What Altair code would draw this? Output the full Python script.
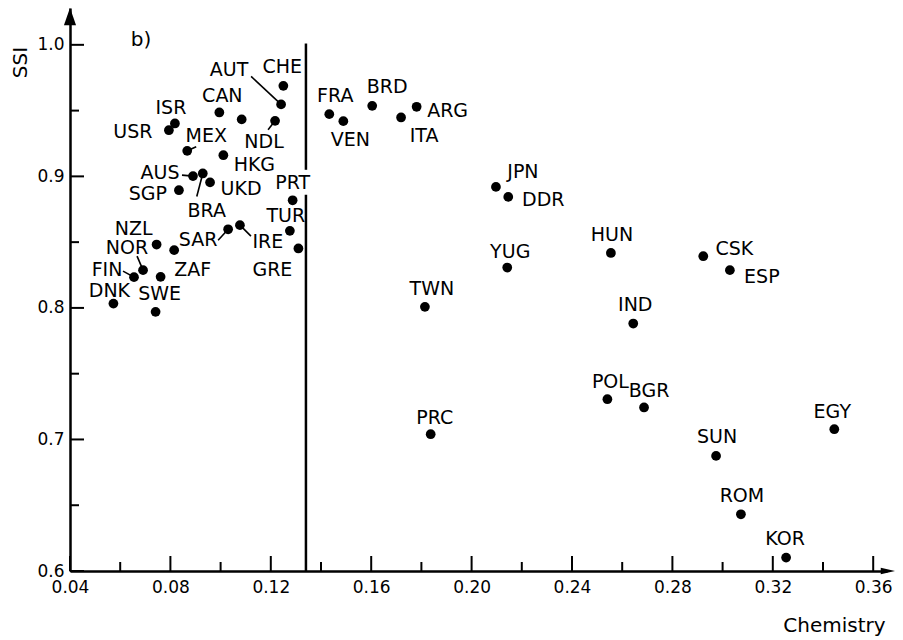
import altair as alt
import pandas as pd

# ---- data ----
countries = ["CHE", "AUT", "CAN", "", "NDL", "ISR", "USR", "MEX", "HKG", "AUS",
             "BRA", "UKD", "SGP", "PRT", "TUR", "IRE", "GRE", "SAR", "", "NZL",
             "NOR", "FIN", "ZAF", "DNK", "SWE", "FRA", "VEN", "BRD", "ITA", "ARG",
             "JPN", "DDR", "YUG", "TWN", "IND", "POL", "BGR", "PRC", "HUN", "CSK",
             "ESP", "EGY", "SUN", "ROM", "KOR"]
chemistry = [0.1250, 0.1241, 0.0995, 0.1084, 0.1217, 0.0818, 0.0794, 0.0867, 0.1011, 0.0890,
             0.0929, 0.0958, 0.0834, 0.1287, 0.1276, 0.1077, 0.1310, 0.1030, 0.0815, 0.0745,
             0.0691, 0.0655, 0.0761, 0.0573, 0.0741, 0.1433, 0.1489, 0.1604, 0.1719, 0.1781,
             0.2097, 0.2146, 0.2142, 0.1814, 0.2644, 0.2541, 0.2687, 0.1837, 0.2555, 0.2923,
             0.3029, 0.3445, 0.2974, 0.3073, 0.3253]
ssi = [0.9688, 0.9547, 0.9486, 0.9433, 0.9422, 0.9402, 0.9351, 0.9194, 0.9161, 0.9002,
       0.9022, 0.8954, 0.8895, 0.8818, 0.8586, 0.8629, 0.8452, 0.8598, 0.8439, 0.8482,
       0.8287, 0.8234, 0.8236, 0.8033, 0.7970, 0.9473, 0.9420, 0.9536, 0.9448, 0.9529,
       0.8920, 0.8844, 0.8307, 0.8008, 0.7881, 0.7306, 0.7243, 0.7040, 0.8418, 0.8393,
       0.8287, 0.7078, 0.6875, 0.6431, 0.6102]

# label placement offsets in pixels (style)
label_dx = [-1, -52, 3, 0, -11, -4, -36, 19, 31, -33,
            4, 31, -31, 0, -4, 28, -26, -30, 0, -23,
            -16, -27, 32, -4, 4, 6, 7, 15, 23, 31,
            27, 35, 3, 7, 2, 3, 5, 4, 1, 31,
            32, -2, 1, 1, -1]
label_dy = [-19, -34, -16, 0, 21, -15, 2, -15, 10, -3,
            38, 7, 4, -17, -15, 17, 22, 11, 0, -16,
            -22, -7, -7, -13, -18, -18, 19, -19, 19, 4,
            -15, 3, -16, -18, -19, -17, -16, -16, -18, -7,
            7, -17, -19, -18, -19]

# leader lines (pixel offsets from the dot)
leader_countries = ["AUT", "NDL", "MEX", "AUS", "BRA", "SAR", "IRE", "FIN", "NOR"]
leader_dx = [-30, -7, 9, -11, -6, -10, 11, -11, -6]
leader_dy = [-28, 9, -4, -1, 23, 11, 11, -6, -14]

x_label_values = [0.04, 0.08, 0.12, 0.16, 0.20, 0.24, 0.28, 0.32, 0.36]
x_minor_ticks = [0.06, 0.10, 0.14, 0.18, 0.22, 0.26, 0.30, 0.34]
y_label_values = [0.6, 0.7, 0.8, 0.9, 1.0]
y_minor_ticks = [0.65, 0.75, 0.85, 0.95]

divider_x = 0.134
divider_from = [0.6, 0.905]
divider_to = [0.886, 1.001]

# ---- layout ----
W, H = 817, 563
X_DOM = [0.04, 0.04 + W / 2510]
Y_DOM = [0.6, 1.028]
KX = (X_DOM[1] - X_DOM[0]) / W
KY = (Y_DOM[1] - Y_DOM[0]) / H
FONT = "DejaVu Sans"

xs = alt.Scale(domain=X_DOM, nice=False, zero=False)
ys = alt.Scale(domain=Y_DOM, nice=False, zero=False)

x_axis = alt.Axis(
    values=x_label_values, format=".2f", labelFontSize=17, labelPadding=8,
    labelFlush=False, labelOverlap=False, labelColor="black",
    domainColor="black", domainWidth=2.5, ticks=False, tickSize=0, grid=False,
    title="Chemistry", titleX=764, titleY=54, titleFontSize=20,
    titleFontWeight="normal", titleAlign="center", titleBaseline="middle",
    titleColor="black")
y_axis = alt.Axis(
    values=y_label_values, format=".1f", labelFontSize=17, labelPadding=6,
    labelOverlap=False, labelColor="black",
    domainColor="black", domainWidth=2.5, ticks=False, tickSize=0, grid=False,
    title="SSI", titleAngle=270, titleX=-50, titleY=54, titleFontSize=20,
    titleFontWeight="normal", titleAlign="center", titleBaseline="middle",
    titleColor="black")

df = pd.DataFrame({"country": countries, "chem": chemistry, "ssi": ssi,
                   "dx": label_dx, "dy": label_dy})

points = alt.Chart(df).mark_circle(size=95, color="black", opacity=1).encode(
    x=alt.X("chem:Q", scale=xs, axis=x_axis),
    y=alt.Y("ssi:Q", scale=ys, axis=y_axis),
)

labels = alt.Chart(df).transform_filter("datum.country != ''").transform_calculate(
    lx=f"datum.chem + datum.dx * {KX}",
    ly=f"datum.ssi - datum.dy * {KY}",
).mark_text(font=FONT, fontSize=19, color="black", align="center", baseline="middle").encode(
    x=alt.X("lx:Q", scale=xs, axis=x_axis),
    y=alt.Y("ly:Q", scale=ys, axis=y_axis),
    text="country:N",
)

lead_df = pd.DataFrame({"country": leader_countries, "ox": leader_dx, "oy": leader_dy}).merge(
    df[["country", "chem", "ssi"]], on="country")
leaders = alt.Chart(lead_df).transform_calculate(
    ex=f"datum.chem + datum.ox * {KX}",
    ey=f"datum.ssi - datum.oy * {KY}",
).mark_rule(color="black", strokeWidth=1.6).encode(
    x=alt.X("chem:Q", scale=xs, axis=x_axis),
    y=alt.Y("ssi:Q", scale=ys, axis=y_axis),
    x2="ex:Q",
    y2="ey:Q",
)

div_df = pd.DataFrame({"x": [divider_x] * len(divider_from), "y1": divider_from, "y2": divider_to})
divider = alt.Chart(div_df).mark_rule(color="black", strokeWidth=2.5).encode(
    x=alt.X("x:Q", scale=xs, axis=x_axis),
    y=alt.Y("y1:Q", scale=ys, axis=y_axis),
    y2="y2:Q",
)

def xticks(vals, length):
    return alt.Chart(pd.DataFrame({"t": vals})).mark_rule(color="black", strokeWidth=2).encode(
        x=alt.X("t:Q", scale=xs, axis=x_axis), y=alt.value(H), y2=alt.value(H - length))

def yticks(vals, length):
    return alt.Chart(pd.DataFrame({"t": vals})).mark_rule(color="black", strokeWidth=2).encode(
        y=alt.Y("t:Q", scale=ys, axis=y_axis), x=alt.value(0), x2=alt.value(length))

one = alt.Data(values=[{"a": 1}])
arrow_up = alt.Chart(one).mark_point(shape="M-0.7,1L0,-1L0.7,1Z", filled=True, color="black",
                                     opacity=1, size=300, strokeWidth=0).encode(
    x=alt.value(0), y=alt.value(8.5))
arrow_right = alt.Chart(one).mark_point(shape="M-1,-0.45L1,0L-1,0.45Z", filled=True, color="black",
                                        opacity=1, size=210, strokeWidth=0).encode(
    x=alt.value(W + 1), y=alt.value(H))

panel = alt.Chart(one).mark_text(text="b)", font=FONT, fontSize=20, color="black",
                                 align="center", baseline="middle").encode(
    x=alt.value(71), y=alt.value(32))

chart = alt.layer(
    points, xticks(x_label_values, 15), xticks(x_minor_ticks, 9),
    yticks(y_label_values, 14), yticks(y_minor_ticks, 9),
    divider, leaders, labels, arrow_up, arrow_right, panel,
).properties(
    width=W, height=H,
    padding={"left": 62, "top": 0, "right": 8, "bottom": 65},
    autosize=alt.AutoSizeParams(type="none"),
    background="white",
).configure_view(stroke=None).configure_axis(labelFont=FONT, titleFont=FONT)

chart.save("out.html", embed_options={"renderer": "svg", "actions": False})
